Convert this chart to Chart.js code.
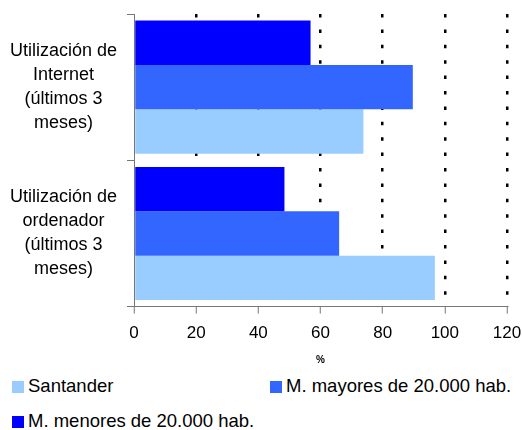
<!DOCTYPE html>
<html>
<head>
<meta charset="utf-8">
<script src="https://cdn.jsdelivr.net/npm/chart.js@4"></script>
<style>
  html, body { margin: 0; padding: 0; background: #fff; }
  #wrap { position: relative; width: 522px; height: 430px; overflow: hidden; }
  #c { position: absolute; left: 0; top: 0; }
  .lg { position: absolute; font-family: "Liberation Sans", Arial, sans-serif; font-size: 18.5px; color: #000; white-space: nowrap; line-height: 20px; }
  .lg i { display: inline-block; width: 12px; height: 12px; margin-right: 4px; vertical-align: -1px; }
</style>
</head>
<body>
<div id="wrap">
  <canvas id="c" width="522" height="370"></canvas>
  <div id="legend"></div>
</div>
<script>
const categories = [
  ["Utilización de", "Internet", "(últimos 3", "meses)"],
  ["Utilización de", "ordenador", "(últimos 3", "meses)"]
];
const seriesNames = ["M. menores de 20.000 hab.", "M. mayores de 20.000 hab.", "Santander"];
const menores = [56.8, 48.4];
const mayores = [89.7, 66.0];
const santander = [73.8, 96.8];
const xTicks = [0, 20, 40, 60, 80, 100, 120];
const colors = ["#0000FF", "#3366FF", "#99CCFF"];
const legendOrder = [2, 1, 0];

const FONT = "'Liberation Sans', Arial, sans-serif";
const values = [menores, mayores, santander];

const chart = new Chart(document.getElementById('c'), {
  type: 'bar',
  data: {
    labels: categories,
    datasets: values.map((v, i) => ({
      label: seriesNames[i],
      data: v,
      backgroundColor: colors[i],
      borderWidth: 0,
      categoryPercentage: 0.91,
      barPercentage: 1.0
    }))
  },
  options: {
    indexAxis: 'y',
    responsive: false,
    animation: false,
    layout: { padding: { top: 14, right: 15, left: 0, bottom: 0 } },
    plugins: { legend: { display: false }, tooltip: { enabled: false } },
    scales: {
      x: {
        min: xTicks[0],
        max: xTicks[xTicks.length - 1],
        afterBuildTicks: (s) => { s.ticks = xTicks.map(v => ({ value: v })); },
        afterFit: (s) => { s.paddingLeft = 0; s.paddingRight = 0; },
        ticks: { color: '#000', padding: 10, font: { family: FONT, size: 17 } },
        grid: {
          color: (ctx) => (ctx.index === 0 ? 'rgba(0,0,0,0)' : '#000'),
          lineWidth: 2.5,
          tickColor: '#777',
          tickWidth: 1,
          tickLength: 7,
          tickBorderDash: []
        },
        border: { display: true, color: '#777', width: 1, dash: [3.5, 11.9] },
        title: {
          display: true,
          text: '%',
          color: '#000',
          font: { family: FONT, size: 10, weight: 'bold' },
          padding: { top: 0, bottom: 4 }
        }
      },
      y: {
        afterFit: (s) => { s.width = 134; s.paddingTop = 0; s.paddingBottom = 0; },
        ticks: {
          color: '#000',
          padding: 10,
          crossAlign: 'center',
          font: { family: FONT, size: 18, lineHeight: 1.333 }
        },
        grid: {
          drawOnChartArea: false,
          color: '#777',
          tickLength: 7,
          lineWidth: 1
        },
        border: { display: true, color: '#777', width: 1 }
      }
    }
  }
});

// HTML legend (two-column layout like the reference)
const legendPos = [
  { left: 12, top: 376 },
  { left: 270, top: 376 },
  { left: 12, top: 411 }
];
const lg = document.getElementById('legend');
legendOrder.forEach((di, k) => {
  const d = document.createElement('div');
  d.className = 'lg';
  d.style.left = legendPos[k].left + 'px';
  d.style.top = legendPos[k].top + 'px';
  const sw = document.createElement('i');
  sw.style.background = colors[di];
  d.appendChild(sw);
  d.appendChild(document.createTextNode(seriesNames[di]));
  lg.appendChild(d);
});
</script>
</body>
</html>
